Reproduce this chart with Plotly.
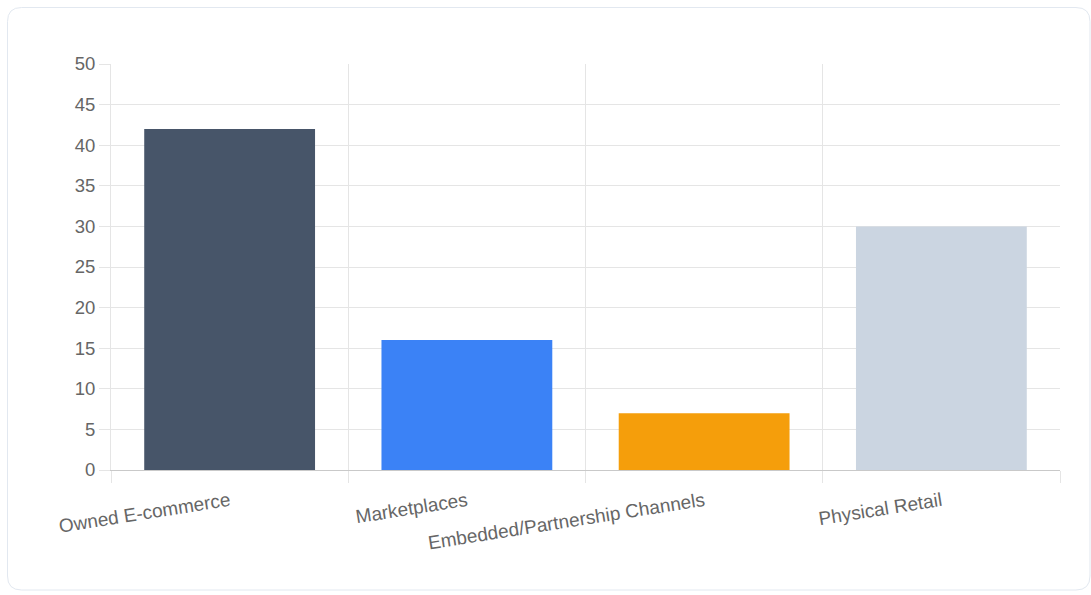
import plotly.graph_objects as go

# Sales channel shares
channels = ["Owned E-commerce", "Marketplaces", "Embedded/Partnership Channels", "Physical Retail"]
shares = [42, 16, 7, 30]
bar_colors = ["#475569", "#3b82f6", "#f59e0b", "#cbd5e1"]

W, H = 1091, 595
L, R, T, B = 111, 31, 64, 125
pw, ph = W - L - R, H - T - B


def px_to_paper(x, y):
    return (x - L) / pw, (H - B - y) / ph


def rounded_rect(x0, y0, x1, y1, r):
    def p(x, y):
        X, Y = px_to_paper(x, y)
        return f"{X:.5f},{Y:.5f}"
    return (
        f"M {p(x0 + r, y0)} L {p(x1 - r, y0)} Q {p(x1, y0)} {p(x1, y0 + r)} "
        f"L {p(x1, y1 - r)} Q {p(x1, y1)} {p(x1 - r, y1)} "
        f"L {p(x0 + r, y1)} Q {p(x0, y1)} {p(x0, y1 - r)} "
        f"L {p(x0, y0 + r)} Q {p(x0, y0)} {p(x0 + r, y0)} Z"
    )


fig = go.Figure(
    go.Bar(
        x=channels,
        y=shares,
        marker=dict(color=bar_colors, line=dict(width=0)),
        width=0.72,
        hoverinfo="x+y",
    )
)

grid = "#e5e5e5"
font_color = "#666666"

fig.update_layout(
    width=W,
    height=H,
    margin=dict(l=L, r=R, t=T, b=B, autoexpand=False),
    paper_bgcolor="white",
    plot_bgcolor="white",
    showlegend=False,
    font=dict(family="Liberation Sans, Arial, sans-serif", size=18, color=font_color),
    xaxis=dict(
        type="category",
        tickson="boundaries",
        showgrid=True,
        gridcolor=grid,
        gridwidth=1,
        ticks="outside",
        ticklen=12,
        tickcolor=grid,
        tickangle=-9,
        ticklabelstandoff=12,
        showline=True,
        linecolor="#c9c9c9",
        linewidth=1,
        tickfont=dict(size=19, color=font_color),
        fixedrange=True,
    ),
    yaxis=dict(
        range=[0, 50],
        dtick=5,
        showgrid=True,
        gridcolor=grid,
        gridwidth=1,
        zeroline=False,
        ticks="outside",
        ticklen=11,
        tickcolor=grid,
        showline=True,
        linecolor=grid,
        linewidth=1,
        tickfont=dict(size=18.5, color=font_color),
        fixedrange=True,
    ),
    shapes=[
        dict(
            type="path",
            xref="paper",
            yref="paper",
            path=rounded_rect(7.5, 7.5, 1090, 590, 14),
            line=dict(color="#e2e8f0", width=1),
            fillcolor="rgba(0,0,0,0)",
            layer="below",
        )
    ],
)

fig.write_html("out.html")
